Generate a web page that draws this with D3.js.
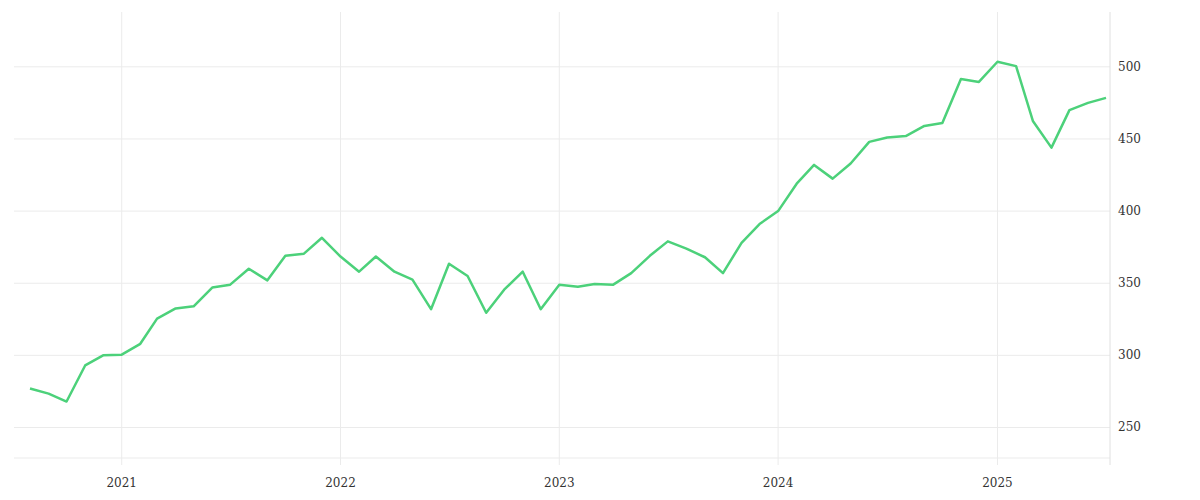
<!DOCTYPE html>
<html><head><meta charset="utf-8">
<script src="https://cdn.jsdelivr.net/npm/d3@7"></script>
<style>body{margin:0;background:#fff}svg{display:block}text{font-family:"DejaVu Serif",serif;font-size:12px;fill:#333}</style>
</head><body><svg id="c" width="1200" height="500"></svg>
<script>
const startMonth = "2020-08";
const values = [277,273.5,268,293,300,300.5,308,325.5,332.5,334,347,349,360,352,369,370.5,381.5,
368.5,358,368.5,358,352.5,332,363.5,355,329.5,345.5,358,332,
349,347.5,349.5,349,357,369,379,374,368,357,378,391,
400,419,432,422.5,433,448,451,452,459,461,491.5,489.5,
503.5,500.5,462.5,444,470,475,478.5];
const yTicks = [250,300,350,400,450,500];
const xTickYears = [2021,2022,2023,2024,2025];

const p0 = d3.timeParse("%Y-%m")(startMonth);
const data = values.map((v,i)=>({d:d3.timeMonth.offset(p0,i),v}));
const svg = d3.select("#c");
const x = d3.scaleTime().domain([d3.timeMonth.offset(p0,-0.5*0), data[data.length-1].d]).range([30,1106]);
const y = d3.scaleLinear().domain([224,538]).range([465,12]);
const g = svg.append("g");
g.selectAll(".h").data(yTicks).join("line").attr("x1",14).attr("x2",1110)
 .attr("y1",d=>y(d)).attr("y2",d=>y(d)).attr("stroke","#ebebeb");
g.append("line").attr("x1",14).attr("x2",1110).attr("y1",458).attr("y2",458).attr("stroke","#ebebeb");
g.selectAll(".v").data(xTickYears).join("line").attr("x1",d=>x(new Date(d,0,1))).attr("x2",d=>x(new Date(d,0,1)))
 .attr("y1",12).attr("y2",465).attr("stroke","#ebebeb");
g.append("line").attr("x1",1110).attr("x2",1110).attr("y1",12).attr("y2",465).attr("stroke","#e0e0e0");
g.selectAll(".yt").data(yTicks).join("text").attr("x",1118).attr("y",d=>y(d)+4).text(d=>d);
g.selectAll(".xt").data(xTickYears).join("text").attr("x",d=>x(new Date(d,0,1))).attr("y",487)
 .attr("text-anchor","middle").text(d=>d);
svg.append("path").datum(data).attr("fill","none").attr("stroke","#4cd17a").attr("stroke-width",2.5)
 .attr("stroke-linejoin","round").attr("d",d3.line().x(d=>x(d.d)).y(d=>y(d.v)));
</script></body></html>
